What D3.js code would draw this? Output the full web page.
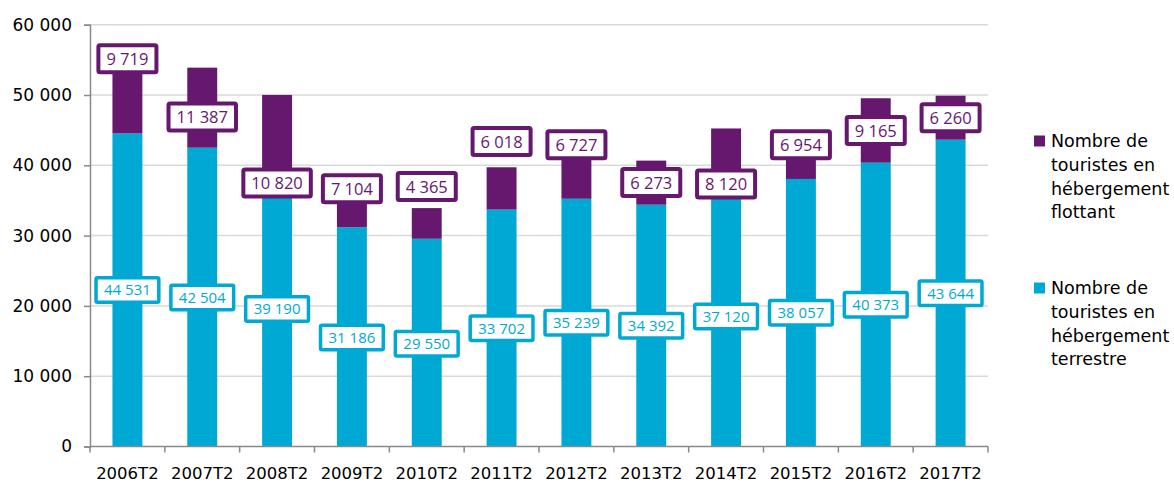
<!DOCTYPE html>
<html>
<head>
<meta charset="utf-8">
<script src="https://cdn.jsdelivr.net/npm/d3@7"></script>
<style>
  body { margin: 0; background: #fff; }
  svg { display: block; }
</style>
</head>
<body>
<svg width="1174" height="483"></svg>
<script>
var categories = ["2006T2", "2007T2", "2008T2", "2009T2", "2010T2", "2011T2",
                  "2012T2", "2013T2", "2014T2", "2015T2", "2016T2", "2017T2"];
var terrestre = [44531, 42504, 39190, 31186, 29550, 33702, 35239, 34392, 37120, 38057, 40373, 43644];
var flottant  = [9719, 11387, 10820, 7104, 4365, 6018, 6727, 6273, 8120, 6954, 9165, 6260];
var yTicks = [0, 10000, 20000, 30000, 40000, 50000, 60000];

// where the (hand placed) data labels sit, in axis units
var flottantLabelAt  = [55150, 46860, 37470, 36660, 36970, 43370, 42920, 37540, 37330, 42940, 44940, 46780];
var terrestreLabelAt = [22250, 21190, 19550, 15500, 14620, 16810, 17590, 17160, 18490, 19010, 20150, 21800];

var legendLines = {
    flottant: ["Nombre de", "touristes en", "hébergement", "flottant"],
    terrestre: ["Nombre de", "touristes en", "hébergement", "terrestre"]
};

var purple = "#66186f",
    cyan = "#00a9d4";

var svg = d3.select("svg");
var fmt = d3.formatLocale({decimal: ",", thousands: " ", grouping: [3], currency: ["", ""]}).format(",d");

var x = d3.scaleBand().domain(categories).range([90, 988]).paddingInner(0.6).paddingOuter(0.3);
var y = d3.scaleLinear().domain([0, 60000]).range([446.5, 24.7]);

// gridlines
svg.append("g").selectAll("line")
    .data(yTicks.slice(1))
    .enter().append("line")
      .attr("x1", 90).attr("x2", 988)
      .attr("y1", function(d) { return y(d); })
      .attr("y2", function(d) { return y(d); })
      .attr("stroke", "#d9d9d9")
      .attr("stroke-width", 1.5);

// y axis
var yAxis = svg.append("g")
    .attr("transform", "translate(90,0)")
    .call(d3.axisLeft(y).tickValues(yTicks).tickFormat(fmt).tickSize(6).tickPadding(12));
yAxis.select(".domain").attr("stroke", "#898989").attr("stroke-width", 1.5);
yAxis.selectAll(".tick line").attr("stroke", "#898989").attr("stroke-width", 1.5);
yAxis.selectAll("text")
    .attr("fill", "#000")
    .style("font-family", "'DejaVu Sans', sans-serif")
    .style("font-size", "17px");

// bars
var bars = svg.append("g");
bars.selectAll("rect.terrestre")
    .data(categories)
    .enter().append("rect")
      .attr("class", "terrestre")
      .attr("x", function(d) { return x(d); })
      .attr("width", x.bandwidth())
      .attr("y", function(d, i) { return y(terrestre[i]); })
      .attr("height", function(d, i) { return y(0) - y(terrestre[i]); })
      .attr("fill", cyan);
bars.selectAll("rect.flottant")
    .data(categories)
    .enter().append("rect")
      .attr("class", "flottant")
      .attr("x", function(d) { return x(d); })
      .attr("width", x.bandwidth())
      .attr("y", function(d, i) { return y(terrestre[i] + flottant[i]); })
      .attr("height", function(d, i) { return y(terrestre[i]) - y(terrestre[i] + flottant[i]); })
      .attr("fill", purple);

// x axis
var step = x.step();
var x0 = 90;
var xAxis = svg.append("g").attr("transform", "translate(0," + y(0) + ")");
xAxis.append("line")
    .attr("x1", x0).attr("x2", 988)
    .attr("stroke", "#898989").attr("stroke-width", 1.5);
xAxis.selectAll("line.tk")
    .data(d3.range(categories.length + 1))
    .enter().append("line")
      .attr("class", "tk")
      .attr("x1", function(i) { return x(categories[0]) - x.bandwidth() * 0.75 + i * step; })
      .attr("x2", function(i) { return x(categories[0]) - x.bandwidth() * 0.75 + i * step; })
      .attr("y1", 0).attr("y2", 6)
      .attr("stroke", "#898989").attr("stroke-width", 1.5);
xAxis.selectAll("text")
    .data(categories)
    .enter().append("text")
      .attr("x", function(d) { return x(d) + x.bandwidth() / 2; })
      .attr("y", 32)
      .attr("text-anchor", "middle")
      .style("font-family", "'DejaVu Sans', sans-serif")
      .style("font-size", "16.5px")
      .text(function(d) { return d; });

// boxed data labels
function labels(values, at, color, fontSize, boxH, strokeW) {
    var g = svg.append("g");
    var lab = g.selectAll("g")
        .data(categories)
        .enter().append("g")
          .attr("transform", function(d, i) {
              return "translate(" + (x(d) + x.bandwidth() / 2) + "," + y(at[i]) + ")";
          });
    var rects = lab.append("rect")
        .attr("fill", "#fff")
        .attr("stroke", color)
        .attr("stroke-width", strokeW)
        .attr("rx", 1.5);
    var texts = lab.append("text")
        .attr("text-anchor", "middle")
        .attr("dy", "0.36em")
        .attr("fill", color)
        .style("font-family", "'Open Sans', sans-serif")
        .style("font-size", fontSize + "px")
        .text(function(d, i) { return fmt(values[i]); });
    texts.each(function(d, i) {
        var w = this.getComputedTextLength() + 16;
        d3.select(rects.nodes()[i])
            .attr("x", -w / 2).attr("width", w)
            .attr("y", -boxH / 2).attr("height", boxH);
    });
}
labels(terrestre, terrestreLabelAt, cyan, 15, 24.5, 3.5);
labels(flottant, flottantLabelAt, purple, 16.5, 27, 4);

// legend
var legend = svg.append("g").style("font-family", "'DejaVu Sans', sans-serif").style("font-size", "17.5px");
var entries = [
    {color: purple, lines: legendLines.flottant, top: 141},
    {color: cyan, lines: legendLines.terrestre, top: 288}
];
var ent = legend.selectAll("g")
    .data(entries)
    .enter().append("g")
      .attr("transform", function(d) { return "translate(1034," + d.top + ")"; });
ent.append("rect")
    .attr("x", 0).attr("y", -5.5)
    .attr("width", 11).attr("height", 11)
    .attr("fill", function(d) { return d.color; });
ent.selectAll("text")
    .data(function(d) { return d.lines; })
    .enter().append("text")
      .attr("x", 17)
      .attr("y", function(d, i) { return i * 23.6; })
      .attr("dy", "0.36em")
      .attr("fill", "#000")
      .text(function(d) { return d; });
</script>
</body>
</html>
